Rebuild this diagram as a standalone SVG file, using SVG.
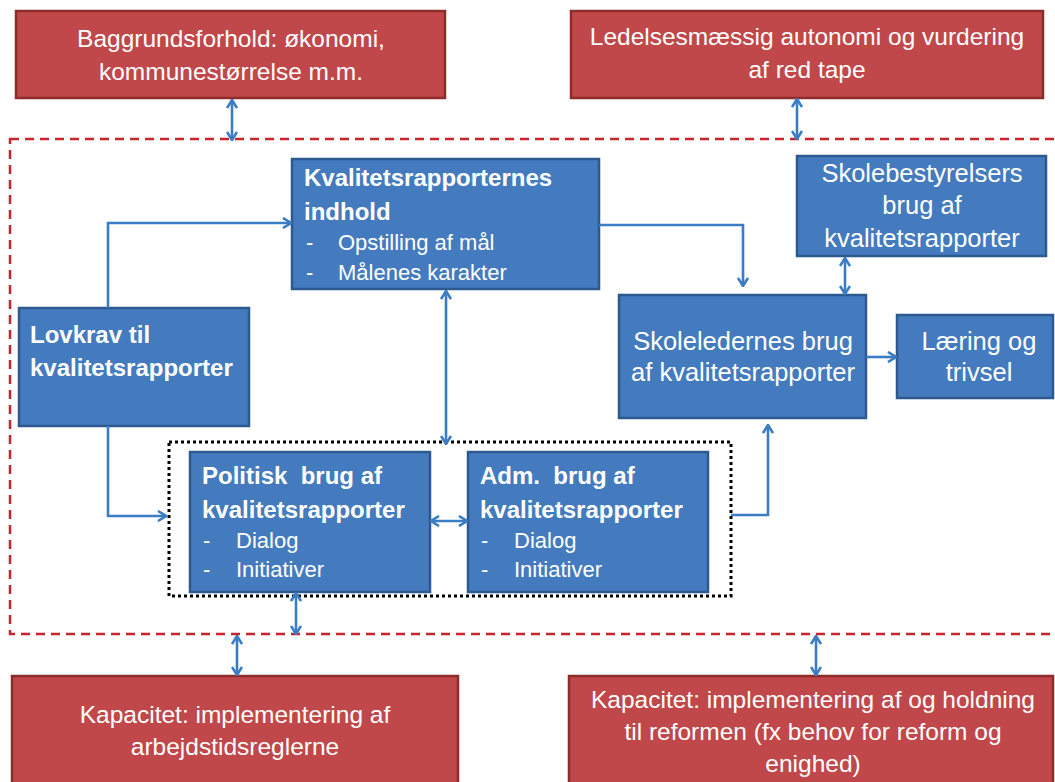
<svg xmlns="http://www.w3.org/2000/svg" width="1055" height="782" viewBox="0 0 1055 782">
<defs>
<marker id="arr" viewBox="0 0 10 12" refX="9" refY="6" markerWidth="10" markerHeight="12" markerUnits="userSpaceOnUse" orient="auto-start-reverse">
<path d="M1,1 L9,6 L1,11" fill="none" stroke="#3B7DC4" stroke-width="2.6" stroke-linejoin="miter"/>
</marker>
</defs>
<style>
text{font-family:"Liberation Sans",Arial,sans-serif;fill:#fff;white-space:pre}
.red{fill:#C0484A;stroke:#8E2C2C;stroke-width:2.5}
.blue{fill:#447BBE;stroke:#2C5A8E;stroke-width:2.5}
.rt{font-size:24.5px;text-anchor:middle}
.bt{font-size:25.5px;text-anchor:middle}
.bold{font-size:24px;font-weight:bold}
.bul{font-size:22px}
.con{fill:none;stroke:#3B7DC4;stroke-width:2.6}
</style>
<rect x="10" y="139" width="1060" height="495" fill="none" stroke="#C8262C" stroke-width="2.5" stroke-dasharray="9 6"/>
<rect x="169" y="442" width="562" height="154" fill="none" stroke="#000" stroke-width="3" stroke-dasharray="3 3"/>
<g id="n-baggrund"><rect class="red" x="16" y="11" width="429" height="87"/><text class="rt" x="231" y="47">Baggrundsforhold: økonomi,</text><text class="rt" x="231" y="80">kommunestørrelse m.m.</text></g>
<g id="n-ledelse"><rect class="red" x="571" y="11" width="472" height="87"/><text class="rt" x="807" y="45">Ledelsesmæssig autonomi og vurdering</text><text class="rt" x="807" y="78">af red tape</text></g>
<g id="n-kvalitet"><rect class="blue" x="292" y="159" width="307" height="130"/><text class="bold" x="304" y="186">Kvalitetsrapporternes</text><text class="bold" x="304" y="220">indhold</text><text class="bul" x="306" y="250">-</text><text class="bul" x="338" y="250">Opstilling af mål</text><text class="bul" x="306" y="280">-</text><text class="bul" x="338" y="280">Målenes karakter</text></g>
<g id="n-lovkrav"><rect class="blue" x="19" y="308" width="230" height="118"/><text class="bold" x="30" y="343">Lovkrav til</text><text class="bold" x="30" y="376">kvalitetsrapporter</text></g>
<g id="n-skolebest"><rect class="blue" x="797" y="156" width="249" height="100"/><text class="bt" x="922" y="182">Skolebestyrelsers</text><text class="bt" x="922" y="214">brug af</text><text class="bt" x="922" y="247">kvalitetsrapporter</text></g>
<g id="n-skoleled"><rect class="blue" x="619" y="295" width="247" height="123"/><text class="bt" x="743" y="350">Skoleledernes brug</text><text class="bt" x="743" y="381">af kvalitetsrapporter</text></g>
<g id="n-laering"><rect class="blue" x="897" y="315" width="156" height="83"/><text class="bt" x="979" y="350">Læring og</text><text class="bt" x="979" y="381">trivsel</text></g>
<g id="n-politisk"><rect class="blue" x="190" y="452" width="240" height="140"/><text class="bold" x="202" y="484">Politisk  brug af</text><text class="bold" x="202" y="518">kvalitetsrapporter</text><text class="bul" x="203" y="548">-</text><text class="bul" x="236" y="548">Dialog</text><text class="bul" x="203" y="577">-</text><text class="bul" x="236" y="577">Initiativer</text></g>
<g id="n-adm"><rect class="blue" x="468" y="452" width="240" height="140"/><text class="bold" x="480" y="484">Adm.  brug af</text><text class="bold" x="480" y="518">kvalitetsrapporter</text><text class="bul" x="481" y="548">-</text><text class="bul" x="514" y="548">Dialog</text><text class="bul" x="481" y="577">-</text><text class="bul" x="514" y="577">Initiativer</text></g>
<g id="n-kap1"><rect class="red" x="12" y="676" width="446" height="112"/><text class="rt" x="235" y="723">Kapacitet: implementering af</text><text class="rt" x="235" y="755">arbejdstidsreglerne</text></g>
<g id="n-kap2"><rect class="red" x="569" y="676" width="484" height="112"/><text class="rt" x="813" y="708">Kapacitet: implementering af og holdning</text><text class="rt" x="813" y="740">til reformen (fx behov for reform og</text><text class="rt" x="813" y="772">enighed)</text></g>
<g id="connectors">
<path class="con" d="M108,308 V223 H291" marker-end="url(#arr)"/>
<path class="con" d="M108,426 V516 H166" marker-end="url(#arr)"/>
<path class="con" d="M599,225 H743 V286" marker-end="url(#arr)"/>
<path class="con" d="M446,291 V444" marker-start="url(#arr)" marker-end="url(#arr)"/>
<path class="con" d="M845,258 V294" marker-start="url(#arr)" marker-end="url(#arr)"/>
<path class="con" d="M866,357 H896" marker-end="url(#arr)"/>
<path class="con" d="M731,515 H768 V425" marker-end="url(#arr)"/>
<path class="con" d="M431,521 H467" marker-start="url(#arr)" marker-end="url(#arr)"/>
<path class="con" d="M296,593 V634" marker-start="url(#arr)" marker-end="url(#arr)"/>
<path class="con" d="M232,100 V140" marker-start="url(#arr)" marker-end="url(#arr)"/>
<path class="con" d="M797,99 V139" marker-start="url(#arr)" marker-end="url(#arr)"/>
<path class="con" d="M237,636 V675" marker-start="url(#arr)" marker-end="url(#arr)"/>
<path class="con" d="M816,636 V675" marker-start="url(#arr)" marker-end="url(#arr)"/>
</g>
</svg>
